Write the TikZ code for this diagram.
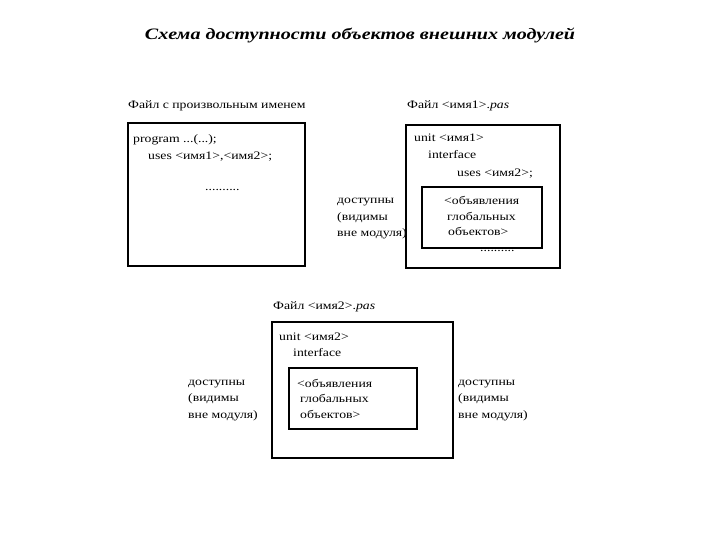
\documentclass[tikz,border=0pt]{standalone}
\usepackage{fontspec}
\setmainfont{Liberation Serif}
\newfontfamily\wideserif[FakeStretch=1.2]{Liberation Serif}
\newfontfamily\headserif[FakeStretch=1.26]{Liberation Serif}
\usetikzlibrary{positioning}
\tikzset{
	filebox/.style={draw, line width=1.6bp, inner sep=0pt},
	declbox/.style={draw, line width=1.6bp, inner sep=0pt},
	ln/.style={anchor=base west, inner sep=0pt, font=\wideserif\fontsize{11.5}{14}\selectfont},
}
\begin{document}
\begin{tikzpicture}[x=1bp, y=-1bp]
	\useasboundingbox (0,0) rectangle (720,540);
	% title
	\node[inner sep=0pt, anchor=base, font=\headserif\fontsize{16}{18}\selectfont\bfseries\itshape] (head) at (360,40) {Схема доступности объектов внешних модулей};
	% main program file
	\node[ln] (progttl) at (128,109) {Файл с произвольным именем};
	\node[filebox, minimum width=177bp, minimum height=143bp] (prog) at (216.5,194.5) {};
	\node[ln] (prog1) at (133,143) {program ...(...);};
	\node[ln] (prog2) at (148,160) {uses <имя1>,<имя2>;};
	\node[ln] (progdots) at (205,191) {..........};
	% unit 1
	\node[ln] (unitAttl) at (407,109) {Файл <имя1>.\textit{pas}};
	\node[filebox, minimum width=154bp, minimum height=143bp] (unitA) at (483,196.5) {};
	\node[ln] (unitA1) at (414,142) {unit <имя1>};
	\node[ln] (unitA2) at (428,159) {interface};
	\node[ln] (unitA3) at (457,177) {uses <имя2>;};
	\node[declbox, minimum width=120bp, minimum height=61bp] (declA) at (482,217.5) {};
	\node[ln] (declA1) at (444,205) {<объявления};
	\node[ln] (declA2) at (447,221) {глобальных};
	\node[ln] (declA3) at (448,236) {объектов>};
	\node[ln] (unitAdots) at (480,252) {..........};
	\node[ln] (visA1) at (337,204) {доступны};
	\node[ln] (visA2) at (337,221) {(видимы};
	\node[ln] (visA3) at (337,237) {вне модуля)};
	% unit 2
	\node[ln] (unitBttl) at (273,309) {Файл <имя2>.\textit{pas}};
	\node[filebox, minimum width=181bp, minimum height=136bp] (unitB) at (362.5,390) {};
	\node[ln] (unitB1) at (279,340) {unit <имя2>};
	\node[ln] (unitB2) at (293,356) {interface};
	\node[declbox, minimum width=128bp, minimum height=61bp] (declB) at (353,398.5) {};
	\node[ln] (declB1) at (297,387) {<объявления};
	\node[ln] (declB2) at (300,402) {глобальных};
	\node[ln] (declB3) at (300,418) {объектов>};
	\node[ln] (visBl1) at (188,385) {доступны};
	\node[ln] (visBl2) at (188,401) {(видимы};
	\node[ln] (visBl3) at (188,418) {вне модуля)};
	\node[ln] (visBr1) at (458,385) {доступны};
	\node[ln] (visBr2) at (458,401) {(видимы};
	\node[ln] (visBr3) at (458,418) {вне модуля)};
\end{tikzpicture}
\end{document}
